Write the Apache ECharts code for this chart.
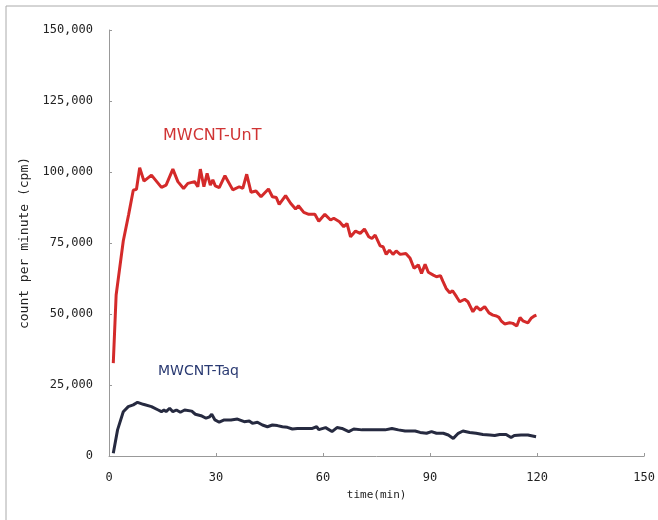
<!DOCTYPE html>
<html>
<head>
<meta charset="utf-8">
<script src="https://cdn.jsdelivr.net/npm/echarts@6/dist/echarts.min.js"></script>
<style>
  html, body { margin: 0; padding: 0; background: #fff; }
  #app { width: 658px; height: 520px; }
</style>
</head>
<body>
<div id="app"></div>
<script>
(function() {
  // time (min) ticks
  const xTicks = [0, 30, 60, 90, 120, 150];
  // MWCNT-UnT : [time(min), cpm]
  const untData = [
    [1.2, 32700], [2, 56700], [4, 75700], [5.5, 85000], [6.8, 93600], [7.7, 93900],
    [8.6, 101500], [9.8, 96800], [11.9, 98900], [14.7, 94600], [16, 95400], [17.9, 101000],
    [19.3, 96600], [20.9, 94200], [22.1, 96000], [24, 96600], [24.9, 94800], [25.6, 101000],
    [26.6, 94800], [27.5, 99500], [28.4, 95400], [29.1, 97200], [29.8, 95100], [30.9, 94500],
    [32.5, 98700], [34.7, 93700], [36.5, 94800], [37.5, 94200], [38.6, 99200], [39.8, 92900],
    [41.2, 93300], [42.6, 91300], [44.7, 94000], [45.8, 91300], [46.9, 91000], [47.7, 88600],
    [49.5, 91700], [50.9, 89000], [52.3, 87000], [53.1, 88100], [54.6, 85800], [56, 85100],
    [57.7, 85100], [58.8, 82700], [60.5, 85100], [62.1, 83100], [63, 83700], [64.6, 82500],
    [65.8, 80700], [66.7, 81900], [67.7, 77200], [69.1, 79200], [70.4, 78400], [71.6, 79900],
    [72.8, 77200], [73.7, 76600], [74.6, 77800], [76, 74000], [76.8, 73700], [77.7, 71000],
    [78.6, 72500], [79.6, 71000], [80.5, 72200], [81.6, 71000], [83.2, 71300], [84.4, 69600],
    [85.5, 66100], [86.7, 67300], [87.6, 64300], [88.6, 67500], [89.5, 64700], [90.9, 63700],
    [91.8, 63100], [92.9, 63500], [93.6, 61500], [94.5, 59000], [95.5, 57500], [96.3, 58200],
    [97.4, 56100], [98.3, 54300], [99.7, 55200], [100.6, 54300], [102, 50800], [103, 52600],
    [104.1, 51400], [105.3, 52600], [106.5, 50400], [107.6, 49600], [108.6, 49300], [109.3, 48800],
    [109.9, 47600], [110.9, 46500], [112.3, 46900], [113.2, 46700], [114.3, 45800], [115.2, 48800],
    [116, 47600], [117.4, 46900], [118.3, 48500], [119.2, 49300], [119.8, 49600]
  ];
  // MWCNT-Taq : [time(min), cpm]
  const taqData = [
    [1.2, 1000], [2.4, 9200], [4, 15600], [5.4, 17400], [6.8, 18000], [8, 18900],
    [9.6, 18200], [11.9, 17400], [13.8, 16200], [14.7, 15600], [15.4, 16200], [16, 15600],
    [17, 16800], [17.9, 15600], [18.9, 16200], [20, 15400], [21.2, 16200], [23.2, 15800],
    [24.2, 14700], [25.8, 14200], [27.2, 13300], [28.2, 13800], [28.8, 14700], [29.7, 12700],
    [30.9, 11900], [32.3, 12700], [34.2, 12700], [36, 13000], [37.9, 12100], [39.3, 12300],
    [40.2, 11500], [41.6, 11900], [43, 10900], [44.4, 10300], [45.8, 10900], [47.2, 10700],
    [48.6, 10300], [50, 10100], [51.4, 9500], [52.8, 9700], [54.6, 9700], [57, 9700],
    [58.2, 10300], [58.8, 9300], [60.7, 10000], [62.5, 8600], [63.9, 10000], [65.3, 9700],
    [67.2, 8600], [68.6, 9500], [70.9, 9200], [73.7, 9200], [77.4, 9200], [79.3, 9700],
    [81.1, 9200], [83, 8800], [85.8, 8800], [87.2, 8300], [89, 8000], [90.4, 8600],
    [91.8, 8000], [93.7, 8000], [95.1, 7400], [96.5, 6200], [97.9, 8000], [99.2, 8800],
    [101.1, 8300], [102.9, 8000], [104.8, 7600], [106.7, 7400], [108.1, 7200], [109.5, 7600],
    [111.3, 7600], [112.7, 6500], [113.6, 7200], [115.5, 7400], [117.4, 7400], [119.7, 6800]
  ];

  const axisFont = "DejaVu Sans Mono";
  const myChart = echarts.init(document.getElementById("app"));
  const option = {
    backgroundColor: "#fff",
    animation: false,
    grid: { left: 109, right: 11, top: 30, bottom: 64 },
    xAxis: {
      type: "value",
      min: xTicks[0],
      max: xTicks[xTicks.length - 1],
      interval: 30,
      name: "time(min)",
      nameLocation: "middle",
      nameGap: 34,
      nameTextStyle: { fontFamily: axisFont, fontSize: 11, color: "#222" },
      axisLine: { lineStyle: { color: "#999" } },
      axisTick: { inside: true, length: 3, lineStyle: { color: "#999" } },
      axisLabel: { fontFamily: axisFont, fontSize: 12, color: "#222", margin: 16 },
      splitLine: { show: false }
    },
    yAxis: {
      type: "value",
      min: 0,
      max: 150000,
      interval: 25000,
      name: "count per minute (cpm)",
      nameLocation: "middle",
      nameGap: 67,
      nameTextStyle: { fontFamily: axisFont, fontSize: 13, color: "#222" },
      axisLine: { show: true, lineStyle: { color: "#999" } },
      axisTick: { show: true, inside: true, length: 3, lineStyle: { color: "#999" } },
      axisLabel: {
        fontFamily: axisFont, fontSize: 12, color: "#222", margin: 16,
        formatter: v => v.toLocaleString("en-US")
      },
      splitLine: { show: false }
    },
    series: [
      {
        name: "MWCNT-UnT",
        type: "line",
        data: untData,
        symbol: "none",
        lineStyle: { color: "#d42a2a", width: 3 }
      },
      {
        name: "MWCNT-Taq",
        type: "line",
        data: taqData,
        symbol: "none",
        lineStyle: { color: "#262a40", width: 3 }
      }
    ],
    graphic: [
      // scanned page frame
      { type: "line", shape: { x1: 6, y1: 6, x2: 658, y2: 6 }, style: { stroke: "#aaa", lineWidth: 1 } },
      { type: "line", shape: { x1: 6, y1: 6, x2: 6, y2: 520 }, style: { stroke: "#aaa", lineWidth: 1 } },
      {
        type: "text", left: 163, top: 128,
        style: { text: "MWCNT-UnT", fill: "#d03434", font: "16px 'DejaVu Sans'" }
      },
      {
        type: "text", left: 158, top: 364,
        style: { text: "MWCNT-Taq", fill: "#2a3a72", font: "14px 'DejaVu Sans'" }
      }
    ]
  };
  myChart.setOption(option);
})();
</script>
</body>
</html>
